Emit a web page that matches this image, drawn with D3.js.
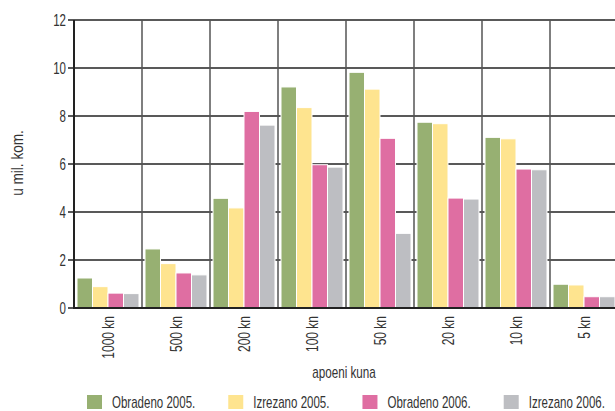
<!DOCTYPE html>
<html>
<head>
<meta charset="utf-8">
<script src="https://cdn.jsdelivr.net/npm/d3@7"></script>
<style>
  html, body { margin: 0; padding: 0; background: #fff; }
  svg { display: block; }
  text { font-family: "Liberation Sans", Arial, sans-serif; fill: #333; }
</style>
</head>
<body>
<svg id="chart" width="615" height="411"></svg>
<script>
const categories = ["1000 kn", "500 kn", "200 kn", "100 kn", "50 kn", "20 kn", "10 kn", "5 kn"];
const seriesNames = ["Obradeno 2005.", "Izrezano 2005.", "Obradeno 2006.", "Izrezano 2006."];
const obradeno2005 = [1.25, 2.46, 4.57, 9.21, 9.82, 7.74, 7.11, 0.99];
const izrezano2005 = [0.89, 1.85, 4.17, 8.35, 9.12, 7.68, 7.05, 0.96];
const obradeno2006 = [0.62, 1.46, 8.19, 5.97, 7.07, 4.58, 5.79, 0.47];
const izrezano2006 = [0.60, 1.38, 7.62, 5.87, 3.11, 4.54, 5.76, 0.47];
const seriesValues = [obradeno2005, izrezano2005, obradeno2006, izrezano2006];
const colors = ["#97b072", "#fee48f", "#df6ea2", "#bdbec2"];
const yTicks = [0, 2, 4, 6, 8, 10, 12];

const svg = d3.select("#chart");
const mLeft = 74, mRight = 618, mTop = 20, mBottom = 308;

const x0 = d3.scaleBand().domain(categories).range([mLeft, mRight]).padding(0);
const x1 = d3.scaleBand().domain(d3.range(seriesNames.length)).range([3, x0.bandwidth() - 3]).padding(0);
const y = d3.scaleLinear().domain([0, 12]).range([mBottom, mTop]);

// horizontal grid
svg.append("g").selectAll("line").data(yTicks).join("line")
  .attr("x1", mLeft - 6).attr("x2", mRight)
  .attr("y1", d => y(d)).attr("y2", d => y(d))
  .attr("stroke", "#222").attr("stroke-width", d => d === 12 ? 1.5 : 1.3);

// vertical separators
svg.append("g").selectAll("line").data(categories).join("line")
  .attr("x1", d => x0(d)).attr("x2", d => x0(d))
  .attr("y1", mTop).attr("y2", mBottom)
  .attr("stroke", "#555").attr("stroke-width", 1.5);

// bars
const groups = svg.append("g").selectAll("g").data(categories).join("g")
  .attr("transform", d => `translate(${x0(d)},0)`);
groups.selectAll("rect")
  .data((c, ci) => seriesValues.map((vals, si) => ({ si, v: vals[ci] })))
  .join("rect")
  .attr("x", d => x1(d.si))
  .attr("width", x1.bandwidth())
  .attr("y", d => y(d.v))
  .attr("height", d => y(0) - y(d.v))
  .attr("fill", d => colors[d.si])
  .attr("stroke", "#fff").attr("stroke-width", 1);

// axes lines
svg.append("line").attr("x1", mLeft).attr("x2", mLeft).attr("y1", mTop).attr("y2", mBottom)
  .attr("stroke", "#222").attr("stroke-width", 2);
svg.append("line").attr("x1", mLeft - 1).attr("x2", mRight).attr("y1", mBottom).attr("y2", mBottom)
  .attr("stroke", "#222").attr("stroke-width", 2.2);

// y tick labels (condensed look via horizontal scale)
svg.append("g").selectAll("text").data(yTicks).join("text")
  .attr("transform", d => `translate(66,${y(d)}) scale(0.72,1)`)
  .attr("dy", "0.36em")
  .attr("text-anchor", "end").attr("font-size", 16)
  .text(d => d);

// y axis title
svg.append("text")
  .attr("transform", `translate(23,163) rotate(-90) scale(0.85,1)`)
  .attr("text-anchor", "middle").attr("font-size", 16)
  .text("u mil. kom.");

// x labels
svg.append("g").selectAll("text").data(categories).join("text")
  .attr("transform", d => `translate(${x0(d) + x0.bandwidth() / 2},316) rotate(-90) scale(0.75,1)`)
  .attr("dy", "0.36em")
  .attr("text-anchor", "end").attr("font-size", 16)
  .text(d => d);

// x axis title
svg.append("text")
  .attr("transform", `translate(${(mLeft + mRight) / 2 - 2},378) scale(0.73,1)`)
  .attr("text-anchor", "middle").attr("font-size", 16)
  .text("apoeni kuna");

// legend
let lx = 87;
const legendScale = 0.72;
const legend = svg.append("g");
seriesNames.forEach((lab, i) => {
  legend.append("rect").attr("x", lx).attr("y", 395).attr("width", 15).attr("height", 14)
    .attr("fill", colors[i]);
  const t = legend.append("text")
    .attr("transform", `translate(${lx + 25},408) scale(${legendScale},1)`)
    .attr("font-size", 16).text(lab);
  lx = lx + 25 + t.node().getComputedTextLength() * legendScale + 33;
});
</script>
</body>
</html>
